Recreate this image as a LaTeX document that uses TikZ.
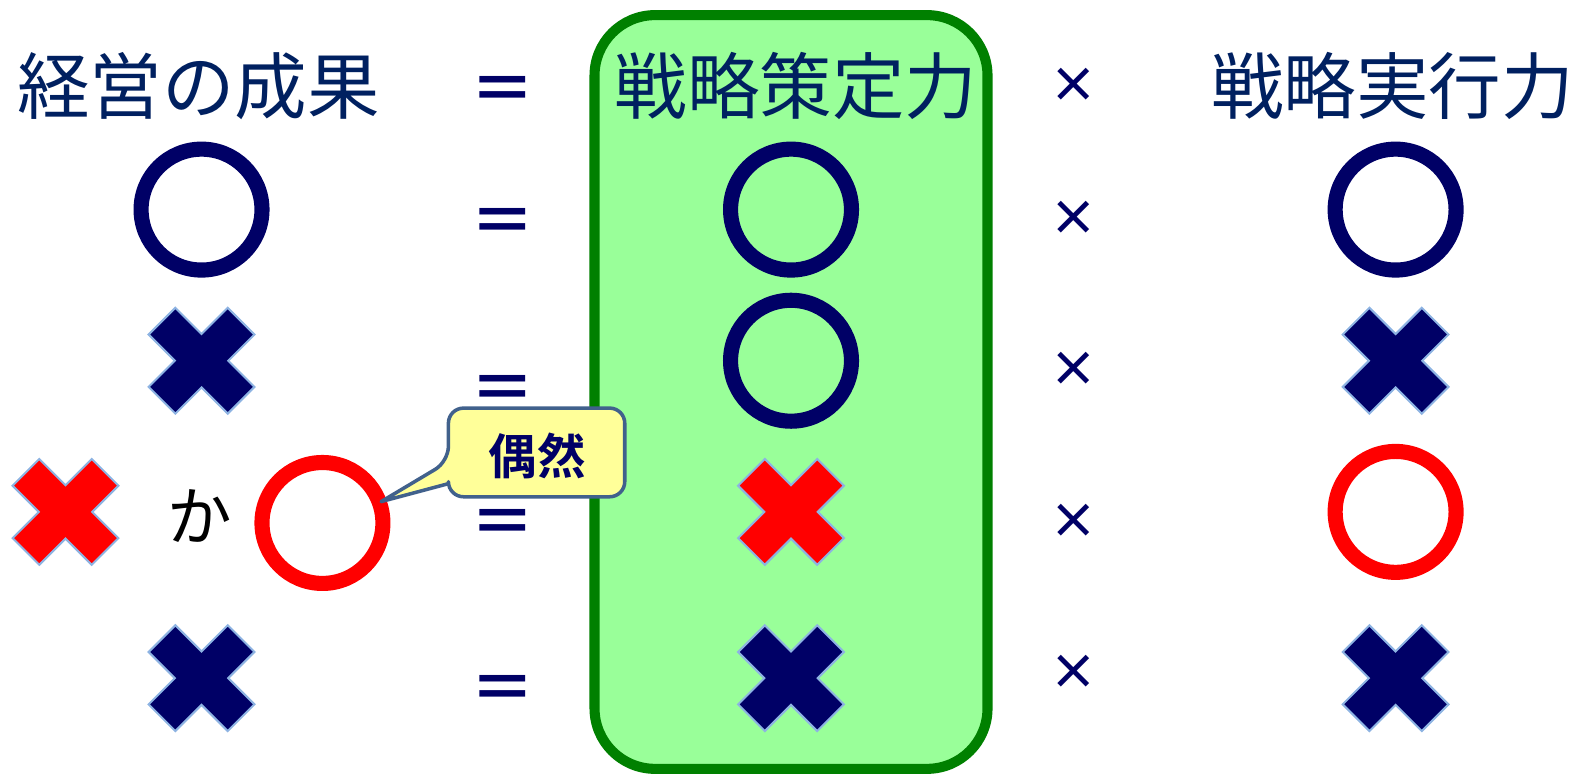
\documentclass[tikz,border=0pt]{standalone}
\usepackage{fontspec}
\newfontfamily\jp{Noto Sans CJK JP}
\newfontfamily\jpb{Noto Sans CJK JP Bold}
\usetikzlibrary{calc}
\definecolor{navy}{RGB}{0,0,102}
\definecolor{headblue}{RGB}{0,32,96}
\definecolor{xred}{RGB}{255,0,0}
\definecolor{xedge}{RGB}{141,179,226}
\definecolor{boxgreen}{RGB}{153,255,153}
\definecolor{boxline}{RGB}{0,128,0}
\definecolor{callfill}{RGB}{255,255,153}
\definecolor{callline}{RGB}{65,97,140}
\begin{document}
\begin{tikzpicture}[x=1pt,y=-1pt,
  head/.style={font=\jp\fontsize{72}{80}\selectfont, text=headblue, inner sep=0},
  ring/.style={circle, draw=#1, line width=15pt, minimum size=120pt, inner sep=0},
  eqsign/.style={font=\jpb\fontsize{64}{64}\selectfont, text=navy, inner sep=0},
  timessign/.style={font=\jpb\fontsize{48}{48}\selectfont, text=navy, inner sep=0},
  pics/xmark/.style={code={
    \filldraw[fill=#1, draw=xedge, line width=2pt]
      (0,-26.5) -- (26,-52.5) -- (52.5,-26) -- (26.5,0) -- (52.5,26) -- (26,52.5)
      -- (0,26.5) -- (-26,52.5) -- (-52.5,26) -- (-26.5,0) -- (-52.5,-26) -- (-26,-52.5) -- cycle;
  }}
]
\useasboundingbox (0,0) rectangle (1568,773);
% green box
\node[draw=boxline, line width=10pt, fill=boxgreen, rounded corners=60pt,
      minimum width=390pt, minimum height=748pt, inner sep=0] (strat) at (785,389) {};
% headers
\node[head] (h1) at (197,85) {経営の成果};
\node[head] (h2) at (790,85) {戦略策定力};
\node[head] (h3) at (1382,85) {戦略実行力};
% equals
\node[eqsign] (e0) at (499,94) {＝};
\node[eqsign] (e1) at (499,225) {＝};
\node[eqsign] (e2) at (499,390) {＝};
\node[eqsign] (e3) at (499,523) {＝};
\node[eqsign] (e4) at (499,688) {＝};
% times
\node[timessign] (t0) at (1066,85) {×};
\node[timessign] (t1) at (1066,217) {×};
\node[timessign] (t2) at (1066,367) {×};
\node[timessign] (t3) at (1066,517) {×};
\node[timessign] (t4) at (1066,667) {×};
% column 1
\node[ring=navy] (a1) at (200,208) {};
\pic (a2) at (200,358) {xmark=navy};
\pic (a3x) at (65,508) {xmark=xred};
\node[font=\jp\fontsize{64}{64}\selectfont, inner sep=0] (ka) at (198,512) {か};
\node[ring=xred] (rc) at (320,519) {};
\pic (a4) at (200,673) {xmark=navy};
% column 2
\node[ring=navy] (b1) at (785,208) {};
\node[ring=navy] (b2) at (785,358) {};
\pic (b3) at (785,508) {xmark=xred};
\pic (b4) at (785,673) {xmark=navy};
% column 3
\node[ring=navy] (c1) at (1385,208) {};
\pic (c2) at (1385,358) {xmark=navy};
\node[ring=xred] (c3) at (1385,508) {};
\pic (c4) at (1385,673) {xmark=navy};
% callout
\coordinate (tip) at ($(rc.center)+(-20:62)$);
\draw[fill=callfill, draw=callline, line width=3.5pt, line join=round]
  (tip) -- (445,480) [rounded corners=15pt] -- (445,493) -- (620,493) -- (620,405)
  -- (445,405) -- (445,458) [sharp corners] -- cycle;
\node[font=\jpb\fontsize{48}{48}\selectfont, text=navy, inner sep=0] (luck) at (533,452) {偶然};
\end{tikzpicture}
\end{document}
